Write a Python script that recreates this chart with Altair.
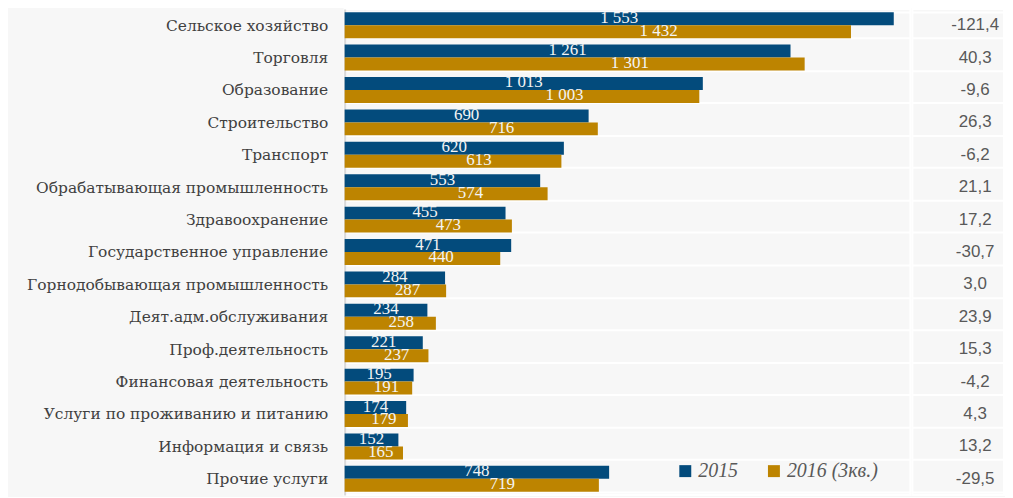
import altair as alt
import pandas as pd

categories = [
    "Сельское хозяйство", "Торговля", "Образование", "Строительство", "Транспорт",
    "Обрабатывающая промышленность", "Здравоохранение ", "Государственное управление",
    "Горнодобывающая промышленность", "Деят.адм.обслуживания", "Проф.деятельность",
    "Финансовая деятельность", "Услуги по проживанию и питанию", "Информация и связь",
    "Прочие услуги",
]
v2015 = [1553, 1261, 1013, 690, 620, 553, 455, 471, 284, 234, 221, 195, 174, 152, 748]
v2016 = [1432, 1301, 1003, 716, 613, 574, 473, 440, 287, 258, 237, 191, 179, 165, 719]
diff = [-121.4, 40.3, -9.6, 26.3, -6.2, 21.1, 17.2, -30.7, 3.0, 23.9, 15.3, -4.2, 4.3, 13.2, -29.5]
series = ["2015", "2016 (3кв.)"]

rows = []
for c, a, b in zip(categories, v2015, v2016):
    rows.append({"cat": c, "series": series[0], "value": a, "pos": 0.5})
    rows.append({"cat": c, "series": series[1], "value": b, "pos": 0.62})
df = pd.DataFrame(rows)
ddf = pd.DataFrame({"cat": categories, "diff": diff})

yscale = alt.Scale(paddingInner=0.2, paddingOuter=0.1)
yaxis = alt.Axis(labelFont="DejaVu Serif", labelFontSize=15.5, labelColor="#404040",
                 labelPadding=17, ticks=False, domainColor="#d9d9d9", domainWidth=2,
                 labelLimit=400, minExtent=337, maxExtent=337, title=None,
                 grid=True, gridColor="white", gridWidth=2, tickBand="extent")
y_main = alt.Y("cat:N", sort=categories, scale=yscale, title=None, axis=yaxis)
yoff = alt.YOffset("series:N", sort=series, scale=alt.Scale(paddingInner=0, paddingOuter=0))
xenc = alt.X("value:Q", scale=alt.Scale(domain=[0, 1600], nice=False), axis=None, title=None)

base = alt.Chart(df)
bars = base.mark_bar().encode(
    y=y_main,
    yOffset=yoff,
    x=xenc,
    color=alt.Color("series:N", sort=series,
                    scale=alt.Scale(domain=series, range=["#034b7c", "#bd8400"]),
                    legend=alt.Legend(title=None, orient="none", legendX=332, legendY=454,
                                      direction="horizontal", symbolType="square", symbolSize=144,
                                      symbolStrokeWidth=0, labelFont="Liberation Serif",
                                      labelFontStyle="italic", labelFontSize=20, labelColor="#595959",
                                      columnPadding=26, labelOffset=3)),
)
labels = base.transform_calculate(
    lx="datum.value * datum.pos",
    txt="replace(format(datum.value, ',d'), ',', ' ')",
).mark_text(font="Liberation Serif", fontSize=17, color="#f4f4f4", baseline="middle", dy=-1).encode(
    y=alt.Y("cat:N", sort=categories, scale=yscale, title=None, axis=yaxis),
    yOffset=yoff,
    x=alt.X("lx:Q", axis=None, title=None),
    text="txt:N",
)
main = alt.layer(bars, labels).properties(width=568, height=488)

right = alt.Chart(ddf).transform_calculate(
    t="replace(replace(format(datum.diff, '.1f'), '.', ','), '\u2212', '-')"
).mark_text(font="Liberation Sans", fontSize=17, color="#595959", baseline="middle").encode(
    y=alt.Y("cat:N", sort=categories, scale=alt.Scale(paddingInner=0.2, paddingOuter=0.1), title=None,
            axis=alt.Axis(labels=False, ticks=False, domain=False, grid=True, gridColor="white",
                          gridWidth=2, tickBand="extent", minExtent=0, maxExtent=0)),
    x=alt.value(63),
    text="t:N",
).properties(width=92, height=488)

chart = alt.hconcat(main, right, spacing=0).configure(
    background="#f7f7f7", padding={"top": -8, "left": 0, "right": 0, "bottom": 0}
).configure_view(stroke="white", strokeWidth=2)

chart.save("out.html", embed_options={"renderer": "svg", "actions": False})
